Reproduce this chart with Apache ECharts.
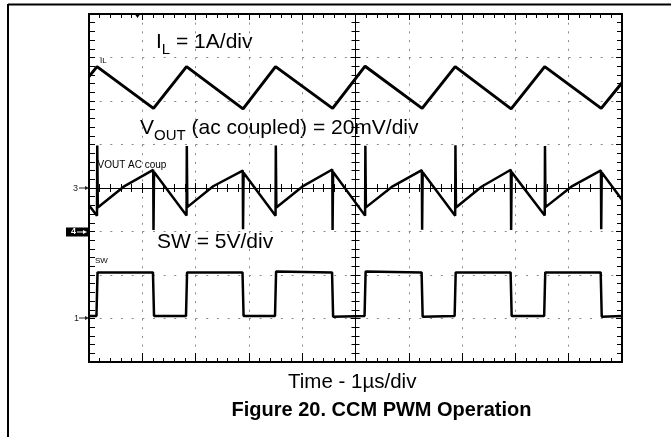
<!DOCTYPE html>
<html>
<head>
<meta charset="utf-8">
<script src="https://cdn.jsdelivr.net/npm/echarts@6/dist/echarts.min.js"></script>
<style>
html, body { margin: 0; padding: 0; background: #fff; }
#main { width: 671px; height: 437px; }
</style>
</head>
<body>
<div id="main"></div>
<script>
// scope capture, time base 1 us/div (10 div across)
// IL, channel 4, 1 A/div
var ilTime = [0, 0.15, 1.21, 1.83, 2.89, 3.50, 4.57, 5.18, 6.25, 6.87, 7.92, 8.55, 9.61, 10];
var ilAmps = [3.56, 3.79, 2.83, 3.79, 2.82, 3.79, 2.83, 3.80, 2.83, 3.79, 2.82, 3.79, 2.83, 3.42];

// VOUT ac coupled, channel 3, 20 mV/div
var voutTime = [0, 0.15, 0.155, 0.165, 0.65, 1.205, 1.21, 1.22,
    1.83, 1.835, 1.845, 2.33, 2.885, 2.89, 2.90,
    3.50, 3.505, 3.515, 4.00, 4.565, 4.57, 4.58,
    5.18, 5.185, 5.195, 5.68, 6.245, 6.25, 6.26,
    6.87, 6.875, 6.885, 7.37, 7.915, 7.92, 7.93,
    8.55, 8.555, 8.565, 9.05, 9.605, 9.61, 9.62, 10];
var voutMv = [-7.9, -12.8, 19.5, -9.0, 0.6, 8.3, -19.3, 7.3,
    -12.6, 19.3, -8.8, 0.8, 8.0, -19.0, 7.0,
    -12.8, 19.5, -9.0, 0.6, 8.5, -19.3, 7.4,
    -12.7, 19.4, -8.9, 0.5, 8.2, -19.2, 7.2,
    -12.8, 19.6, -9.0, 0.7, 8.4, -19.3, 7.3,
    -12.6, 19.3, -8.8, 0.6, 8.1, -19.0, 7.1, -5.4];

// SW, channel 1, 5 V/div
var swTime = [0, 0.14, 0.16, 1.20, 1.22, 1.82, 1.84, 2.88, 2.90, 3.49, 3.51, 4.56, 4.58,
    5.17, 5.19, 6.24, 6.26, 6.86, 6.88, 7.91, 7.93, 8.54, 8.56, 9.60, 9.62, 10];
var swVolts = [0.3, 0.3, 5.3, 5.3, 0.3, 0.3, 5.3, 5.3, 0.3, 0.3, 5.4, 5.3, 0.2,
    0.3, 5.4, 5.3, 0.2, 0.3, 5.3, 5.3, 0.3, 0.3, 5.3, 5.3, 0.2, 0.3];

// screen divisions: value / (units per div) + ground marker position
function toDiv(times, vals, perDiv, ground) {
    return times.map(function (t, i) { return [t, vals[i] / perDiv + ground]; });
}

var FONT = 'Liberation Sans, Arial, sans-serif';
var dots = '#8a8a8a';

function hidden(grid, min, max) {
    return { gridIndex: grid, type: 'value', show: false, min: min, max: max };
}
function ruler(grid, pos, min, max, lineW, majorLen, minorLen, split) {
    return {
        gridIndex: grid, type: 'value', position: pos, min: min, max: max, interval: 1,
        axisLine: { show: true, onZero: false, lineStyle: { color: '#000', width: lineW } },
        axisTick: { show: true, inside: true, length: majorLen, lineStyle: { color: '#000', width: 1 } },
        minorTick: { show: true, splitNumber: 5, length: minorLen, lineStyle: { color: '#000', width: 1 } },
        axisLabel: { show: false },
        splitLine: split ? { show: true, lineStyle: { color: dots, width: 1, type: split } } : { show: false },
        minorSplitLine: { show: false }
    };
}

var chart = echarts.init(document.getElementById('main'));

var option = {
    backgroundColor: '#fff',
    animation: false,
    grid: [
        { left: 89, top: 14, width: 533, height: 348 },
        { left: 89, top: 14, width: 533, height: 174 },
        { left: 89, top: 188, width: 533, height: 174 },
        { left: 89, top: 14, width: 266.5, height: 348 },
        { left: 355.5, top: 14, width: 266.5, height: 348 }
    ],
    xAxis: [
        ruler(0, 'bottom', 0, 10, 2, 9, 4, [2, 6.7]),
        ruler(0, 'top', 0, 10, 2, 6, 4, null),
        ruler(1, 'bottom', 0, 10, 1, 5, 4, null),
        ruler(2, 'top', 0, 10, 1, 5, 4, null),
        hidden(3, 0, 5),
        hidden(4, 5, 10)
    ],
    yAxis: [
        ruler(0, 'left', 0, 8, 2, 6, 6, [2, 8.66]),
        ruler(0, 'right', 0, 8, 2, 6, 5, null),
        hidden(1, 4, 8),
        hidden(2, 0, 4),
        ruler(3, 'right', 0, 8, 1, 5, 4, null),
        ruler(4, 'left', 0, 8, 1, 5, 4, null)
    ],
    series: [
        {
            name: 'IL', type: 'line', xAxisIndex: 0, yAxisIndex: 0,
            showSymbol: false, symbol: 'none',
            lineStyle: { color: '#000', width: 3 },
            data: toDiv(ilTime, ilAmps, 1, 3)
        },
        {
            name: 'VOUT', type: 'line', xAxisIndex: 0, yAxisIndex: 0,
            showSymbol: false, symbol: 'none',
            lineStyle: { color: '#000', width: 2.5 },
            data: toDiv(voutTime, voutMv, 20, 4)
        },
        {
            name: 'SW', type: 'line', xAxisIndex: 0, yAxisIndex: 0,
            showSymbol: false, symbol: 'none',
            lineStyle: { color: '#000', width: 2.5 },
            data: toDiv(swTime, swVolts, 5, 1)
        }
    ],
    graphic: [
        // page frame
        { type: 'line', shape: { x1: 8, y1: 4.5, x2: 671, y2: 4.5 }, style: { stroke: '#000', lineWidth: 2 } },
        { type: 'line', shape: { x1: 8, y1: 4, x2: 8, y2: 437 }, style: { stroke: '#000', lineWidth: 2 } },
        // trigger position marker
        { type: 'polygon', shape: { points: [[134, 13], [141, 13], [137.5, 18]] }, style: { fill: '#000' } },
        // channel ground markers
        { type: 'text', x: 73, y: 188.5, style: { text: '3', font: '9px ' + FONT, fill: '#222', verticalAlign: 'middle' } },
        { type: 'line', shape: { x1: 79, y1: 188, x2: 87, y2: 188 }, style: { stroke: '#222', lineWidth: 1 } },
        { type: 'polygon', shape: { points: [[85, 186], [89, 188], [85, 190]] }, style: { fill: '#222' } },
        { type: 'rect', shape: { x: 66, y: 227.5, width: 22, height: 9 }, style: { fill: '#000' } },
        { type: 'text', x: 71, y: 232, style: { text: '4', font: 'bold 9px ' + FONT, fill: '#fff', verticalAlign: 'middle' } },
        { type: 'line', shape: { x1: 77, y1: 232, x2: 85, y2: 232 }, style: { stroke: '#fff', lineWidth: 1 } },
        { type: 'polygon', shape: { points: [[83, 230], [87, 232], [83, 234]] }, style: { fill: '#fff' } },
        { type: 'text', x: 74, y: 318.5, style: { text: '1', font: '9px ' + FONT, fill: '#222', verticalAlign: 'middle' } },
        { type: 'line', shape: { x1: 79, y1: 318, x2: 87, y2: 318 }, style: { stroke: '#222', lineWidth: 1 } },
        { type: 'polygon', shape: { points: [[85, 316], [89, 318], [85, 320]] }, style: { fill: '#222' } },
        // scope channel labels
        { type: 'text', x: 100, y: 60.5, style: { text: 'IL', font: '8px ' + FONT, fill: '#000', verticalAlign: 'middle' } },
        { type: 'text', x: 97.5, y: 165.5, style: { text: 'VOUT AC coup', font: '10px ' + FONT, fill: '#000', verticalAlign: 'middle' } },
        { type: 'text', x: 95, y: 260.5, style: { text: 'SW', font: '8px ' + FONT, fill: '#000', verticalAlign: 'middle' } },
        // annotations
        {
            type: 'text', x: 156, y: 42,
            style: {
                text: '{n|I}{s|L}{n| = 1A/div}', fill: '#000', verticalAlign: 'middle',
                rich: { n: { fontSize: 21, fontFamily: FONT, lineHeight: 30 }, s: { fontSize: 15, fontFamily: FONT, height: 15, verticalAlign: 'bottom' } }
            }
        },
        {
            type: 'text', x: 140, y: 128,
            style: {
                text: '{n|V}{s|OUT}{n| (ac coupled) = 20mV/div}', fill: '#000', verticalAlign: 'middle',
                rich: { n: { fontSize: 21, fontFamily: FONT, lineHeight: 30 }, s: { fontSize: 15, fontFamily: FONT, height: 15, verticalAlign: 'bottom' } }
            }
        },
        { type: 'text', x: 157, y: 242, style: { text: 'SW = 5V/div', font: '21px ' + FONT, fill: '#000', verticalAlign: 'middle' } },
        { type: 'text', x: 288, y: 382, style: { text: 'Time - 1µs/div', font: '20.5px ' + FONT, fill: '#000', verticalAlign: 'middle' } },
        { type: 'text', x: 231.5, y: 410, style: { text: 'Figure 20. CCM PWM Operation', font: 'bold 20px ' + FONT, fill: '#000', verticalAlign: 'middle' } }
    ]
};

chart.setOption(option);
</script>
</body>
</html>
